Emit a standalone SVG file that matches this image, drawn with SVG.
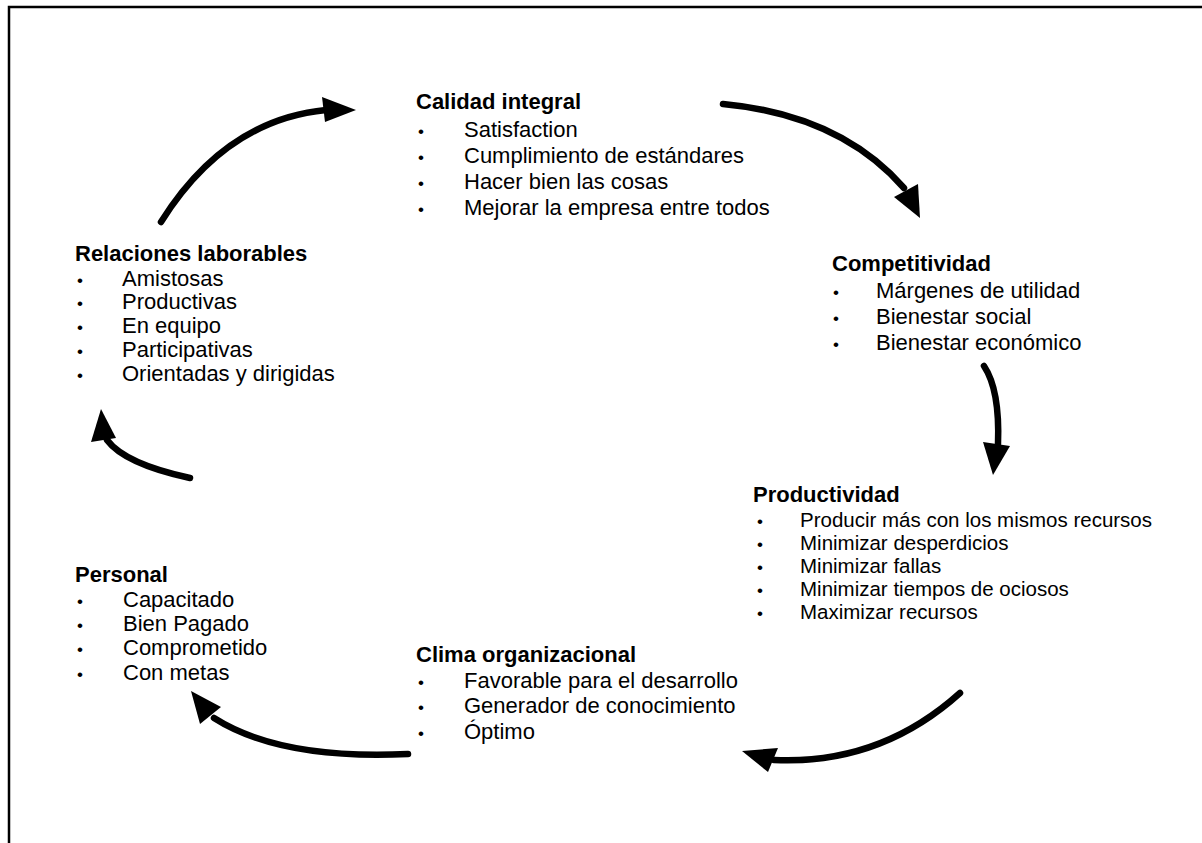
<svg xmlns="http://www.w3.org/2000/svg" width="1202" height="843" viewBox="0 0 1202 843">
<style>
text{font-family:"Liberation Sans",Arial,sans-serif;fill:#000}
.t{font-size:22px;font-weight:bold}
.i{font-size:22px}
.s{font-size:20.5px}
.b{font-size:17px}
.arc{fill:none;stroke:#000;stroke-width:6.5;stroke-linecap:round}
.hd{fill:#000}
</style>
<rect width="1202" height="843" fill="#fff"/>
<path d="M9,843 V7 H1202" fill="none" stroke="#000" stroke-width="2.5"/>

<g id="calidad">
<text class="t" x="416" y="109">Calidad integral</text>
<text class="b" x="418" y="137">•</text><text class="i" x="464" y="137">Satisfaction</text>
<text class="b" x="418" y="163">•</text><text class="i" x="464" y="163">Cumplimiento de estándares</text>
<text class="b" x="418" y="189">•</text><text class="i" x="464" y="189">Hacer bien las cosas</text>
<text class="b" x="418" y="215">•</text><text class="i" x="464" y="215">Mejorar la empresa entre todos</text>
</g>

<g id="competitividad">
<text class="t" x="832" y="271">Competitividad</text>
<text class="b" x="833" y="298">•</text><text class="i" x="876" y="298">Márgenes de utilidad</text>
<text class="b" x="833" y="324">•</text><text class="i" x="876" y="324">Bienestar social</text>
<text class="b" x="833" y="350">•</text><text class="i" x="876" y="350">Bienestar económico</text>
</g>

<g id="productividad">
<text class="t" x="753" y="502">Productividad</text>
<text class="b" x="757" y="527">•</text><text class="s" x="800" y="527">Producir más con los mismos recursos</text>
<text class="b" x="757" y="550">•</text><text class="s" x="800" y="550">Minimizar desperdicios</text>
<text class="b" x="757" y="573">•</text><text class="s" x="800" y="573">Minimizar fallas</text>
<text class="b" x="757" y="596">•</text><text class="s" x="800" y="596">Minimizar tiempos de ociosos</text>
<text class="b" x="757" y="619">•</text><text class="s" x="800" y="619">Maximizar recursos</text>
</g>

<g id="clima">
<text class="t" x="416" y="662">Clima organizacional</text>
<text class="b" x="418" y="688">•</text><text class="i" x="464" y="688">Favorable para el desarrollo</text>
<text class="b" x="418" y="713">•</text><text class="i" x="464" y="713">Generador de conocimiento</text>
<text class="b" x="418" y="739">•</text><text class="i" x="464" y="739">Óptimo</text>
</g>

<g id="personal">
<text class="t" x="75" y="582">Personal</text>
<text class="b" x="77" y="607">•</text><text class="i" x="123" y="607">Capacitado</text>
<text class="b" x="77" y="631">•</text><text class="i" x="123" y="631">Bien Pagado</text>
<text class="b" x="77" y="655">•</text><text class="i" x="123" y="655">Comprometido</text>
<text class="b" x="77" y="680">•</text><text class="i" x="123" y="680">Con metas</text>
</g>

<g id="relaciones">
<text class="t" x="75" y="261">Relaciones laborables</text>
<text class="b" x="77" y="286">•</text><text class="i" x="122" y="286">Amistosas</text>
<text class="b" x="77" y="309">•</text><text class="i" x="122" y="309">Productivas</text>
<text class="b" x="77" y="333">•</text><text class="i" x="122" y="333">En equipo</text>
<text class="b" x="77" y="357">•</text><text class="i" x="122" y="357">Participativas</text>
<text class="b" x="77" y="381">•</text><text class="i" x="122" y="381">Orientadas y dirigidas</text>
</g>

<g id="connectors">
<path class="arc" d="M161,222 Q225,120 326,110"/>
<polygon class="hd" points="356,110 322,97 325,122"/>

<path class="arc" d="M723,104 Q840,115 904,188"/>
<polygon class="hd" points="920,218 894,197 918,184"/>

<path class="arc" d="M984,366 Q1000,390 998,444"/>
<polygon class="hd" points="993,475 983,442 1010,446"/>

<path class="arc" d="M960,693 Q880,765 774,760"/>
<polygon class="hd" points="742,751 778,748 768,772"/>

<path class="arc" d="M408,754 Q280,760 214,718"/>
<polygon class="hd" points="191,691 200,724 221,707"/>

<path class="arc" d="M190,478 Q125,464 107,440"/>
<polygon class="hd" points="101,409 91,442 116,438"/>
</g>
</svg>
